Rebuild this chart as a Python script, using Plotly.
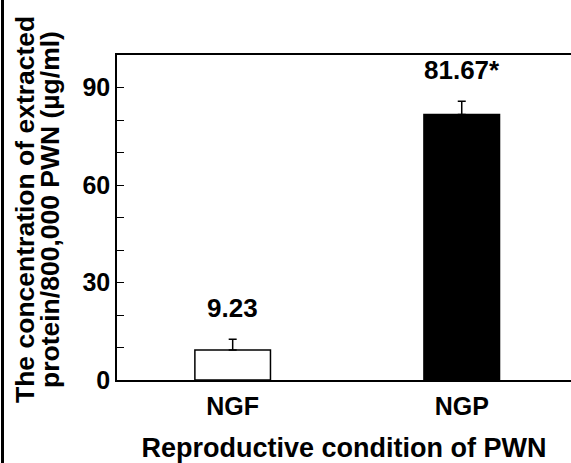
import plotly.graph_objects as go

# ---- data ----
categories = ["NGF", "NGP"]
values = [9.23, 81.67]
errors_up = [3.3, 4.1]
value_labels = ["9.23", "81.67*"]
bar_colors = ["white", "black"]
y_tick_vals = [0, 10, 20, 30, 40, 50, 60, 70, 80, 90]
y_tick_text = ["0", "", "", "30", "", "", "60", "", "", "90"]
x_title = "Reproductive condition of PWN"
y_title_lines = ["The concentration of extracted", "protein/800,000 PWN (µg/ml)"]

W, H = 571, 463
L, R, T, B = 117, 0, 55, 83
FONT = "Arial, Liberation Sans, sans-serif"

fig = go.Figure()
fig.add_trace(go.Bar(
    x=categories, y=values, width=0.33,
    marker=dict(color=bar_colors, line=dict(color="black", width=1.5)),
    error_y=dict(type="data", symmetric=False, array=errors_up,
                 arrayminus=[0] * len(values), color="black",
                 thickness=1.5, width=4),
    showlegend=False,
))

for c, v, e, t in zip(categories, values, errors_up, value_labels):
    fig.add_annotation(x=c, y=v + e, text="<b>%s</b>" % t, showarrow=False,
                       yanchor="bottom", yshift=14,
                       font=dict(family=FONT, size=26, color="black"))

pw = W - L - R
ph = H - T - B
# y-axis title as two rotated lines
for px, line in zip([25, 50], y_title_lines):
    fig.add_annotation(xref="paper", yref="paper",
                       x=(px - L) / pw, y=(380 - 210) / ph,
                       text="<b>%s</b>" % line, textangle=-90, showarrow=False,
                       xanchor="center", yanchor="middle",
                       font=dict(family=FONT, size=26.5, color="black"))

# left border of the figure
fig.add_shape(type="line", xref="paper", yref="paper",
              x0=(2.5 - L) / pw, x1=(2.5 - L) / pw,
              y0=(380 - 0) / ph, y1=(380 - H) / ph,
              line=dict(color="black", width=3))

fig.update_layout(
    width=W, height=H,
    margin=dict(l=L, r=R, t=T, b=B),
    paper_bgcolor="white", plot_bgcolor="white",
    font=dict(family=FONT, color="black"),
    xaxis=dict(range=[-0.505, 1.477], showline=True, linecolor="black",
               linewidth=1.5, mirror=True, ticks="", showgrid=False,
               automargin=False, ticklabelstandoff=3,
               tickvals=categories, ticktext=["<b>%s</b>" % c for c in categories],
               tickfont=dict(family=FONT, size=25, color="black"),
               title=dict(text="<b>%s</b>" % x_title, standoff=22,
                          font=dict(family=FONT, size=27, color="black"))),
    yaxis=dict(range=[0, 100], showline=True, linecolor="black",
               linewidth=1.5, mirror=False, ticks="inside", ticklen=7,
               tickwidth=1, tickcolor="black", showgrid=False, zeroline=False,
               automargin=False,
               tickvals=y_tick_vals, ticktext=["<b>%s</b>" % t if t else "" for t in y_tick_text],
               tickfont=dict(family=FONT, size=25, color="black")),
)

fig.write_html("out.html", config={"displayModeBar": False},
               post_script="document.body.style.margin='0';")
